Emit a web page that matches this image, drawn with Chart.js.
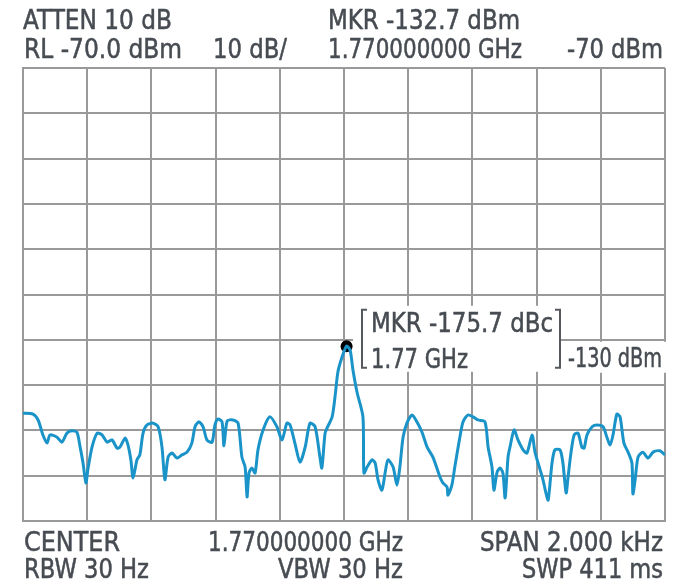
<!DOCTYPE html>
<html><head><meta charset="utf-8">
<script src="https://cdn.jsdelivr.net/npm/chart.js@4"></script>
<style>html,body{margin:0;padding:0;background:#fff;}canvas{display:block;}</style>
</head><body>
<canvas id="c" width="681" height="583"></canvas>
<script>
// Frequency offset from center (Hz) and measured level (dBm)
const freqOffsetHz = [-1000,-969,-953,-938,-925,-916,-894,-879,-863,-847,-832,-822,-813,-804,-798,-785,-769,-754,-738,-723,-707,-698,-682,-673,-664,-657,-645,-636,-626,-614,-595,-579,-567,-558,-548,-536,-520,-505,-489,-474,-464,-452,-439,-427,-411,-402,-393,-380,-374,-364,-346,-330,-318,-308,-302,-296,-287,-277,-268,-252,-231,-209,-193,-178,-168,-153,-137,-121,-106,-90,-75,-69,-59,-53,-37,-28,-19,-6,8,19,28,41,59,62,72,87,97,106,118,128,137,153,165,174,184,196,212,227,243,259,277,299,308,321,324,336,346,361,371,386,402,417,439,449,461,467,477,486,495,502,511,517,530,542,558,570,586,595,611,620,629,636,648,657,673,682,692,698,707,717,729,741,748,757,773,788,807,819,829,838,850,860,872,885,897,900,907,916,931,947,963,984,1000];
const levelDbm = [-146.2,-146.4,-147.7,-151.0,-152.8,-151.0,-151.5,-152.6,-150.6,-150.1,-150.4,-153.7,-157.2,-161.6,-158.7,-153.7,-150.6,-151.0,-152.6,-152.1,-153.9,-153.7,-151.7,-153.2,-156.5,-160.5,-156.5,-155.4,-150.6,-148.8,-148.4,-149.2,-153.7,-160.9,-155.9,-155.0,-156.1,-155.4,-154.8,-152.8,-149.2,-148.1,-149.2,-152.1,-152.6,-148.8,-147.5,-148.1,-153.4,-147.9,-147.7,-148.4,-155.9,-158.1,-164.7,-159.4,-158.3,-159.4,-154.3,-149.9,-147.0,-149.2,-152.1,-148.4,-148.8,-152.8,-157.0,-153.7,-148.4,-149.2,-155.9,-158.3,-150.6,-149.5,-147.0,-142.6,-137.1,-133.8,-131.4,-132.3,-136.7,-141.7,-147.0,-159.4,-158.1,-156.5,-157.2,-160.9,-163.2,-159.4,-156.5,-158.1,-162.1,-158.1,-151.5,-148.4,-146.6,-148.1,-150.4,-153.7,-155.9,-160.3,-161.6,-162.5,-164.3,-162.1,-157.7,-151.5,-148.1,-146.6,-147.0,-147.7,-148.1,-153.7,-158.1,-163.2,-159.2,-158.3,-159.4,-164.9,-155.9,-153.7,-149.9,-152.1,-154.3,-155.0,-151.0,-154.8,-158.7,-160.9,-163.8,-165.4,-157.2,-154.3,-154.3,-157.2,-163.8,-160.3,-155.0,-151.0,-150.6,-153.7,-153.9,-151.0,-149.2,-148.8,-149.2,-151.5,-153.2,-151.0,-146.4,-147.0,-152.8,-154.8,-157.2,-164.0,-160.9,-155.9,-154.8,-156.1,-154.8,-154.5,-155.4];
const yRange = [-170, -70];
const yStep = 10;
const xRange = [-1000, 1000];
const xStep = 200;
const headerTexts = ["ATTEN 10 dB", "MKR -132.7 dBm", "RL -70.0 dBm", "10 dB/", "1.770000000 GHz", "-70 dBm"];
const footerTexts = ["CENTER", "1.770000000 GHz", "SPAN 2.000 kHz", "RBW 30 Hz", "VBW 30 Hz", "SWP 411 ms"];
const markerTexts = ["MKR -175.7 dBc", "1.77 GHz"];
const refLineLabel = "-130 dBm";
const refLineValue = -130;

const points = freqOffsetHz.map((f, i) => ({x: f, y: levelDbm[i]}));
let pk = 0;
levelDbm.forEach((v, i) => { if (v > levelDbm[pk]) pk = i; });
const peakPoint = [{x: freqOffsetHz[pk], y: levelDbm[pk]}];

const TEXT_COLOR = '#474c52';
const FONT = '27px "DejaVu Sans Condensed", "DejaVu Sans", sans-serif';
const GRID = '#999999';

function fitText(ctx, text, x, base, align, w) {
  ctx.save();
  ctx.font = FONT;
  ctx.fillStyle = TEXT_COLOR;
  ctx.textBaseline = 'alphabetic';
  ctx.textAlign = 'left';
  const m = ctx.measureText(text).width;
  const s = w / m;
  const left = align === 'right' ? x - w : x;
  ctx.translate(left, base);
  ctx.scale(s, 1);
  ctx.fillText(text, 0, 0);
  ctx.strokeStyle = TEXT_COLOR;
  ctx.lineWidth = 0.5;
  ctx.strokeText(text, 0, 0);
  ctx.restore();
}

const boxesPlugin = {
  id: 'boxes',
  beforeDatasetsDraw(chart) {
    const ctx = chart.ctx;
    const ya = chart.scales.y;
    const yRef = ya.getPixelForValue(refLineValue);
    ctx.save();
    ctx.fillStyle = '#ffffff';
    ctx.fillRect(353, yRef - 34, 208, 66);
    ctx.fillRect(561, yRef + 2, 110, 31);
    ctx.restore();
  }
};

const textPlugin = {
  id: 'texts',
  afterDraw(chart) {
    const ctx = chart.ctx;
    const ya = chart.scales.y;
    const yRef = ya.getPixelForValue(refLineValue);
    // header
    fitText(ctx, headerTexts[0], 23, 29, 'left', 149);
    fitText(ctx, headerTexts[1], 328, 29, 'left', 192);
    fitText(ctx, headerTexts[2], 24, 58, 'left', 158);
    fitText(ctx, headerTexts[3], 213, 58, 'left', 74);
    fitText(ctx, headerTexts[4], 328, 58, 'left', 194);
    fitText(ctx, headerTexts[5], 663, 58, 'right', 96);
    // footer
    fitText(ctx, footerTexts[0], 24, 551, 'left', 96);
    fitText(ctx, footerTexts[1], 208, 551, 'left', 195);
    fitText(ctx, footerTexts[2], 663, 551, 'right', 183);
    fitText(ctx, footerTexts[3], 24, 578, 'left', 125);
    fitText(ctx, footerTexts[4], 403, 578, 'right', 125);
    fitText(ctx, footerTexts[5], 663, 578, 'right', 141);
    // marker annotation
    fitText(ctx, markerTexts[0], 371, yRef - 8, 'left', 182);
    fitText(ctx, markerTexts[1], 371, yRef + 28, 'left', 97);
    fitText(ctx, refLineLabel, 568, yRef + 27, 'left', 94);
    // brackets
    ctx.save();
    ctx.strokeStyle = '#55595d';
    ctx.lineWidth = 2;
    const t = yRef - 30, b = yRef + 28;
    ctx.beginPath();
    ctx.moveTo(367, t); ctx.lineTo(362, t); ctx.lineTo(362, b); ctx.lineTo(367, b);
    ctx.moveTo(555, t); ctx.lineTo(560, t); ctx.lineTo(560, b); ctx.lineTo(555, b);
    ctx.stroke();
    ctx.restore();
  }
};

new Chart(document.getElementById('c'), {
  type: 'line',
  data: {
    datasets: [
      {
        data: points,
        borderColor: '#1a94c8',
        borderWidth: 3,
        pointRadius: 0,
        tension: 0.25,
        fill: false
      },
      {
        data: peakPoint,
        showLine: false,
        pointRadius: 6,
        pointBackgroundColor: '#000000',
        pointBorderColor: '#000000',
        pointBorderWidth: 0
      }
    ]
  },
  options: {
    responsive: false,
    animation: false,
    devicePixelRatio: 1,
    layout: { padding: { left: 23, right: 16, top: 68, bottom: 62 } },
    plugins: { legend: { display: false }, tooltip: { enabled: false } },
    scales: {
      x: {
        type: 'linear', min: xRange[0], max: xRange[1],
        ticks: { display: false, stepSize: xStep },
        grid: { color: GRID, lineWidth: 2, drawTicks: false },
        border: { color: GRID, width: 2 }
      },
      y: {
        type: 'linear', min: yRange[0], max: yRange[1],
        ticks: { display: false, stepSize: yStep },
        grid: { color: GRID, lineWidth: 2, drawTicks: false },
        border: { color: GRID, width: 2 }
      }
    }
  },
  plugins: [boxesPlugin, textPlugin]
});
</script>
</body></html>
